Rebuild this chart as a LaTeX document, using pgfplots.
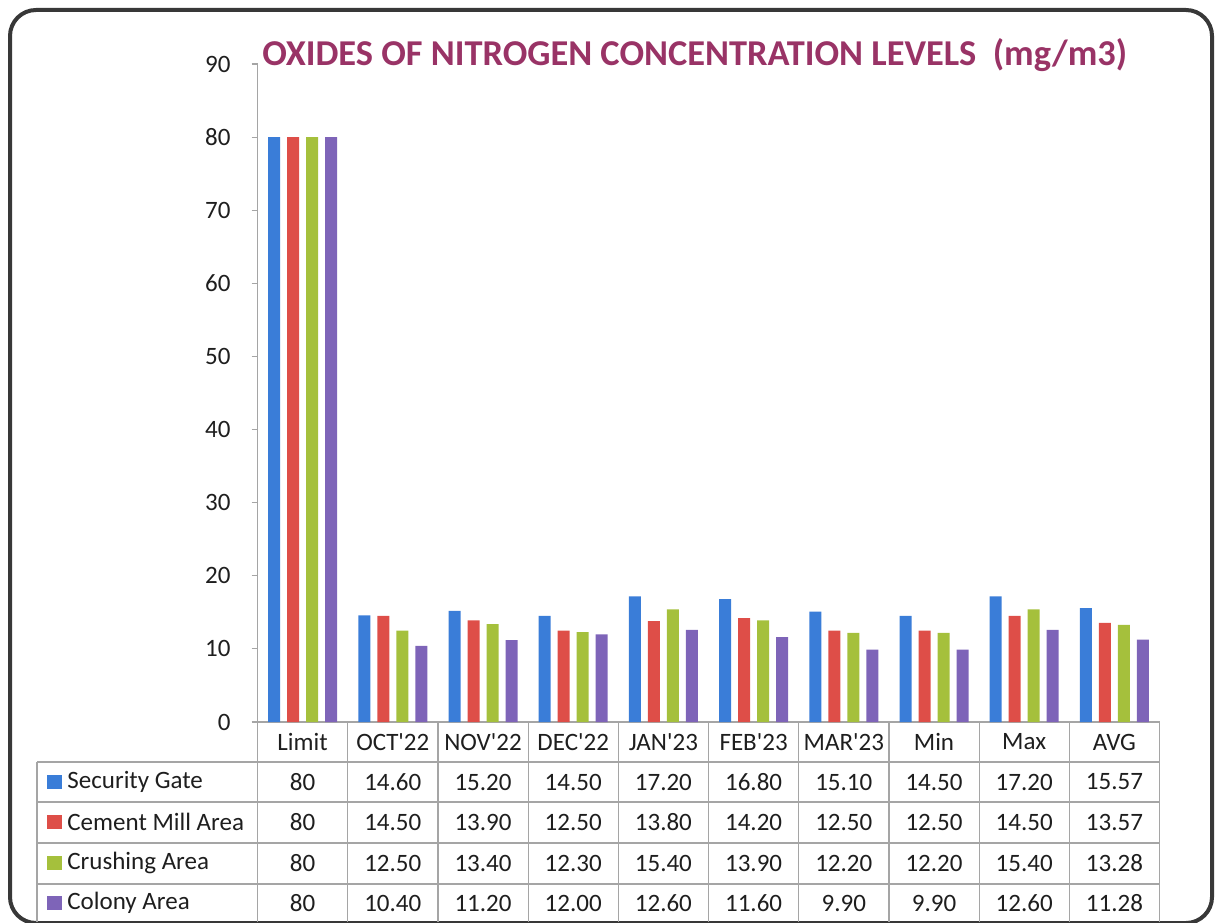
\documentclass[border=0pt]{standalone}
\usepackage{fontspec}
\setmainfont{Carlito}
\usepackage{pgfplots}
\usepackage{pgfplotstable}
\pgfplotsset{compat=1.18}
\definecolor{cBlue}{RGB}{58,125,216}
\definecolor{cRed}{RGB}{222,78,72}
\definecolor{cGreen}{RGB}{165,192,60}
\definecolor{cPurple}{RGB}{126,100,184}
\definecolor{titlec}{RGB}{153,51,102}
\definecolor{gridc}{RGB}{165,165,165}
\definecolor{txt}{RGB}{30,30,30}
\newcommand{\tf}{\fontsize{12.5}{15}\selectfont}
\newcommand{\q}{\textquotesingle}
\pgfplotstableread{
i sg cm cr co
0 80 80 80 80
1 14.6 14.5 12.5 10.4
2 15.2 13.9 13.4 11.2
3 14.5 12.5 12.3 12.0
4 17.2 13.8 15.4 12.6
5 16.8 14.2 13.9 11.6
6 15.1 12.5 12.2 9.9
7 14.5 12.5 12.2 9.9
8 17.2 14.5 15.4 12.6
9 15.57 13.57 13.28 11.28
}\datatable
\begin{document}
\begin{tikzpicture}
\path[use as bounding box] (0,0) rectangle (609pt,461pt);
\begin{axis}[
 at={(128.75pt,100pt)}, anchor=south west,
 scale only axis, width=451pt, height=329pt,
 xmin=-0.5, xmax=9.5, ymin=0, ymax=90,
 ybar=3.5pt, bar width=6pt,
 axis x line*=bottom, axis y line*=left,
 axis line style={gridc, line width=0.6pt, -},
 xtick=\empty,
 ytick={0,10,...,90},
 tick align=outside, major tick length=3pt,
 tick style={gridc, line width=0.6pt},
 /pgf/number format/assume math mode=true,
 yticklabel style={font=\tf, text=txt, xshift=-7pt},
 clip=false,
]
\addplot[draw=none, fill=cBlue] table[x=i,y=sg]{\datatable};
\addplot[draw=none, fill=cRed] table[x=i,y=cm]{\datatable};
\addplot[draw=none, fill=cGreen] table[x=i,y=cr]{\datatable};
\addplot[draw=none, fill=cPurple] table[x=i,y=co]{\datatable};
\end{axis}
\begin{scope}[x=0.5pt,y=-0.5pt,yshift=461pt]
 % border
 \draw[line width=2pt, black!78, rounded corners=13pt] (10,10) rectangle (1212,923);
 % title
 \node[anchor=base west, inner sep=0pt, text=titlec, font=\fontsize{18.2}{22}\selectfont\bfseries] at (262,66) {OXIDES OF NITROGEN CONCENTRATION LEVELS\ \ (mg/m3)};
 % table lines
 \foreach \k in {0,...,10} {
   \draw[gridc, line width=0.6pt] ({257.5+90.2*\k},722) -- ({257.5+90.2*\k},922);
 }
 \draw[gridc, line width=0.6pt] (37,762) -- (37,922);
 \foreach \yy in {762,802,843,884} {
   \draw[gridc, line width=0.6pt] (37,\yy) -- (1159.5,\yy);
 }
 % header
 \foreach \v [count=\k from 0] in {Limit,OCT\q22,NOV\q22,DEC\q22,JAN\q23,FEB\q23,MAR\q23,Min,Max,AVG}
   \node[font=\tf, text=txt] at ({302.6+90.2*\k},742) {\v};
 \foreach \v [count=\k from 0] in {80,14.60,15.20,14.50,17.20,16.80,15.10,14.50,17.20,15.57}
   \node[font=\tf, text=txt] at ({302.6+90.2*\k},782) {\v};
 \foreach \v [count=\k from 0] in {80,14.50,13.90,12.50,13.80,14.20,12.50,12.50,14.50,13.57}
   \node[font=\tf, text=txt] at ({302.6+90.2*\k},822) {\v};
 \foreach \v [count=\k from 0] in {80,12.50,13.40,12.30,15.40,13.90,12.20,12.20,15.40,13.28}
   \node[font=\tf, text=txt] at ({302.6+90.2*\k},863) {\v};
 \foreach \v [count=\k from 0] in {80,10.40,11.20,12.00,12.60,11.60,9.90,9.90,12.60,11.28}
   \node[font=\tf, text=txt] at ({302.6+90.2*\k},903) {\v};
 % legend keys
 \foreach \c/\lab/\yy in {cBlue/Security Gate/782,cRed/Cement Mill Area/822,cGreen/Crushing Area/863,cPurple/Colony Area/903} {
   \fill[\c] (47,\yy-7) rectangle (62,\yy+7);
   \node[font=\tf, text=txt, anchor=west, inner sep=0pt] at (67,\yy) {\lab};
 }
\end{scope}
\end{tikzpicture}
\end{document}
